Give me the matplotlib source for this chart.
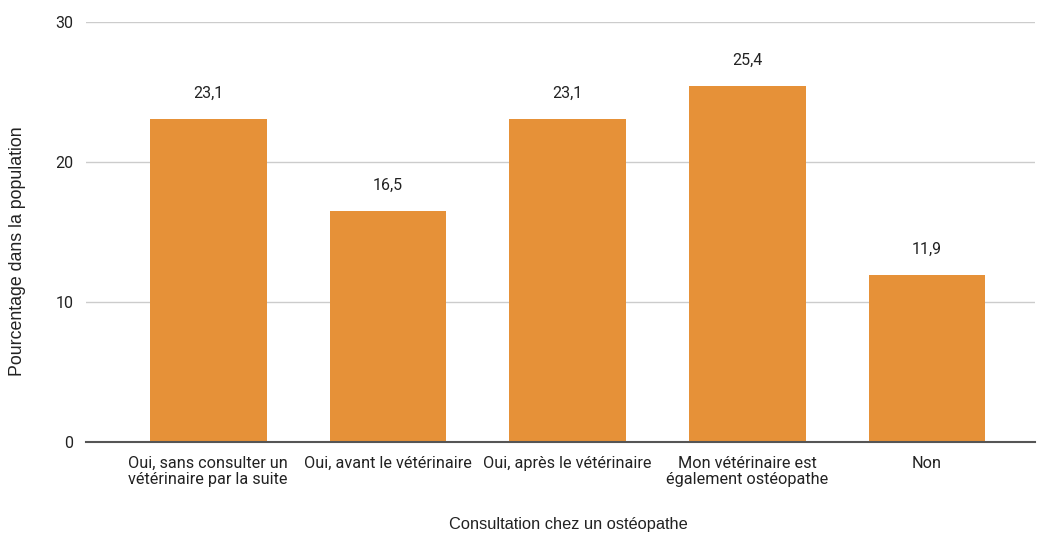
import matplotlib.pyplot as plt

# données
categories = [
    "Oui, sans consulter un\nvétérinaire par la suite",
    "Oui, avant le vétérinaire",
    "Oui, après le vétérinaire",
    "Mon vétérinaire est\négalement ostéopathe",
    "Non",
]
values = [23.1, 16.5, 23.1, 25.4, 11.9]
y_ticks = [0, 10, 20, 30]

plt.rcParams['font.family'] = ['Roboto', 'DejaVu Sans']
text_color = "#222222"
title_font = ['Liberation Sans', 'DejaVu Sans']

fig = plt.figure(figsize=(10.38, 5.33), dpi=100)
ax = fig.add_axes([0.0829, 0.1707, 0.9141, 0.788])

x = list(range(len(categories)))
bars = ax.bar(x, values, width=0.65, color="#E69138", zorder=3)

for xi, v in zip(x, values):
    ax.text(xi, v + 1.3, f"{v:.1f}".replace(".", ","), ha="center", va="bottom",
            fontsize=11.5, color=text_color)

ax.set_xlim(-0.68, 4.6)
ax.set_ylim(0, 30)
ax.set_yticks(y_ticks)
ax.set_xticks(x)
ax.set_xticklabels(categories, fontsize=11.7, color=text_color, linespacing=1.1)
ax.tick_params(axis="y", labelsize=11.5, labelcolor=text_color, length=0, pad=9)
ax.tick_params(axis="x", length=0, pad=10)

ax.grid(axis="y", color="#cccccc", linewidth=1, zorder=0)
for s in ["top", "right", "left"]:
    ax.spines[s].set_visible(False)
ax.spines["bottom"].set_color("#555555")
ax.spines["bottom"].set_linewidth(1.5)
ax.spines["bottom"].set_zorder(4)

# titres des axes (police type Arial dans l'original)
fig.text(18 / 1038, 1 - 251 / 533, "Pourcentage dans la population", rotation=90,
         ha="center", va="center", fontsize=12.8, color=text_color, family=title_font)
fig.text(568 / 1038, 1 - 524 / 533, "Consultation chez un ostéopathe",
         ha="center", va="center", fontsize=11.8, color=text_color, family=title_font)

fig.savefig("out.png", dpi=100)
